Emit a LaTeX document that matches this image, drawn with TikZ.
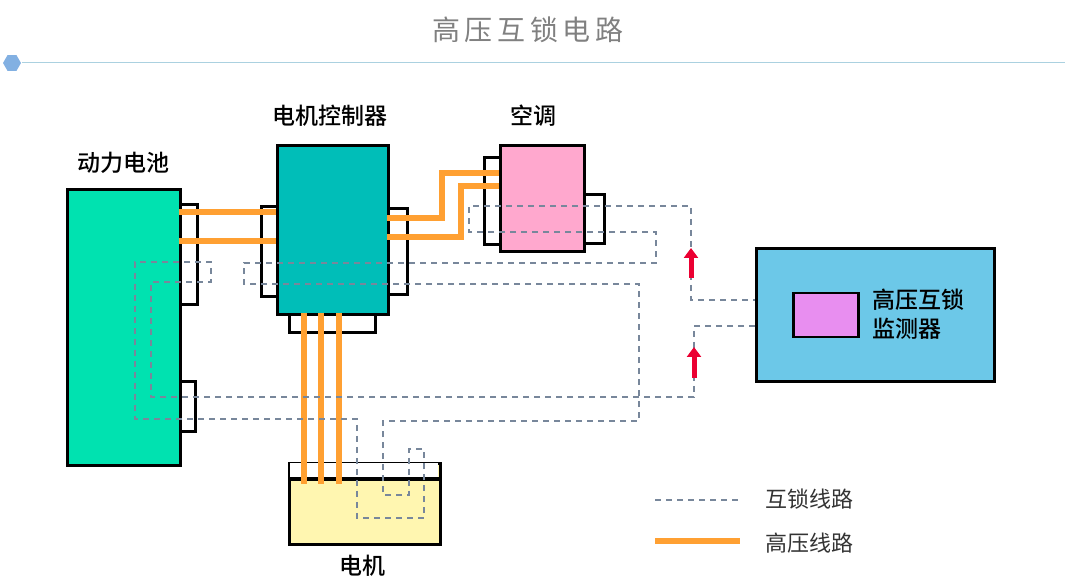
\documentclass[tikz,border=0pt]{standalone}
\usepackage{fontspec}
\newfontfamily\cjk{Noto Sans CJK SC}
\newfontfamily\cjkb{Noto Sans CJK SC Medium}
\usetikzlibrary{shapes.geometric,arrows.meta}
\definecolor{cbat}{RGB}{0,226,176}
\definecolor{cctl}{RGB}{0,190,184}
\definecolor{cac}{RGB}{255,168,206}
\definecolor{cmot}{RGB}{255,246,176}
\definecolor{cmon}{RGB}{108,200,232}
\definecolor{cdet}{RGB}{232,142,240}
\definecolor{chv}{RGB}{255,160,50}
\definecolor{cil}{RGB}{120,135,155}
\definecolor{cred}{RGB}{235,0,50}
\begin{document}
\begin{tikzpicture}[x=1pt,y=-1pt,
  box/.style={draw=black,line width=3pt,inner sep=0pt,anchor=north west},
  hv/.style={draw=chv,line width=6pt},
  il/.style={draw=cil,line width=1.3pt,dash pattern=on 6pt off 5pt},
  lbl/.style={font=\cjkb\fontsize{23}{29}\selectfont},
  red/.style={-{Triangle[length=10pt,width=14pt]},line width=5pt,draw=cred}]
\useasboundingbox (0,0) rectangle (1080,585);
\node[font=\cjk\fontsize{28}{32}\selectfont,text=gray] (title) at (528,30) {高\,压\,互\,锁\,电\,路};
\draw[cyan!50!gray!50,line width=1pt] (22,63) -- (1065,63);
\node[regular polygon,regular polygon sides=6,fill=cyan!60!blue!50,minimum size=18pt,inner sep=0pt] (hex) at (12,63) {};
% connectors (behind)
\node[box,fill=white,minimum width=17pt,minimum height=100pt] (bc1) at (179,203) {};
\node[box,fill=white,minimum width=15pt,minimum height=50pt] (bc2) at (179,380) {};
\node[box,fill=white,minimum width=16pt,minimum height=90pt] (cl) at (260,205) {};
\node[box,fill=white,minimum width=19pt,minimum height=86pt] (cr) at (387,207) {};
\node[box,fill=white,minimum width=86pt,minimum height=18pt] (cb) at (288,313) {};
\node[box,fill=white,minimum width=16pt,minimum height=87pt] (al) at (483,156) {};
\node[box,fill=white,minimum width=20pt,minimum height=49pt] (ar) at (583,193) {};
% main boxes
\node[box,fill=cbat,minimum width=113pt,minimum height=276pt] (bat) at (66,188) {};
\node[box,fill=cctl,minimum width=111pt,minimum height=169pt] (ctl) at (276,144) {};
\node[box,fill=cac,minimum width=84pt,minimum height=106pt] (ac) at (499,144) {};
\node[box,fill=cmot,minimum width=151pt,minimum height=81pt] (mot) at (288,462) {};
\fill[white] (289.5,463.5) rectangle (437.5,477.5);
\draw[black,line width=3pt] (288,479) -- (439,479);
\node[box,fill=cmon,minimum width=238pt,minimum height=133pt] (mon) at (755,247) {};
\node[box,fill=cdet,line width=2.5pt,minimum width=65pt,minimum height=44pt] (det) at (792,292) {};
% labels
\node[lbl] (l1) at (123,163) {动力电池};
\node[lbl] (l2) at (330,116) {电机控制器};
\node[lbl] (l3) at (533,116) {空调};
\node[lbl] (l4) at (362,566) {电机};
\node[lbl,align=left] (l5) at (918,314) {高压互锁\\监测器};
% high voltage
\draw[hv] (179,212) -- (276,212);
\draw[hv] (179,241) -- (276,241);
\draw[hv] (387,218) -- (442,218) -- (442,173) -- (499,173);
\draw[hv] (387,237) -- (461,237) -- (461,186) -- (499,186);
\draw[hv] (304,313) -- (304,484);
\draw[hv] (321,313) -- (321,484);
\draw[hv] (339,313) -- (339,484);
% interlock
\coordinate (m1) at (755,300);
\coordinate (m2) at (755,326);
\draw[il] (m2) -- (694,326) -- (694,397) -- (151,397) -- (151,282) -- (211,282) -- (211,262) -- (135,262) -- (135,419) -- (357,419) -- (357,518) -- (424,518) -- (424,449) -- (409,449) -- (409,495) -- (383,495) -- (383,421) -- (639,421) -- (639,284) -- (244,284) -- (244,263) -- (656,263) -- (656,232) -- (469,232) -- (469,206) -- (691,206) -- (691,300) -- (m1);
\draw[red] (691,278) -- (691,248);
\draw[red] (694,378) -- (694,347);
% legend
\coordinate (la) at (655,500); \coordinate (lb) at (740,500);
\draw[il] (la) -- (lb);
\node[anchor=west,text=black!80,font=\cjk\fontsize{22}{26}\selectfont] (t1) at (762,499) {互锁线路};
\coordinate (lc) at (655,541); \coordinate (ld) at (740,541);
\draw[hv] (lc) -- (ld);
\node[anchor=west,text=black!80,font=\cjk\fontsize{22}{26}\selectfont] (t2) at (762,543) {高压线路};
\end{tikzpicture}
\end{document}
